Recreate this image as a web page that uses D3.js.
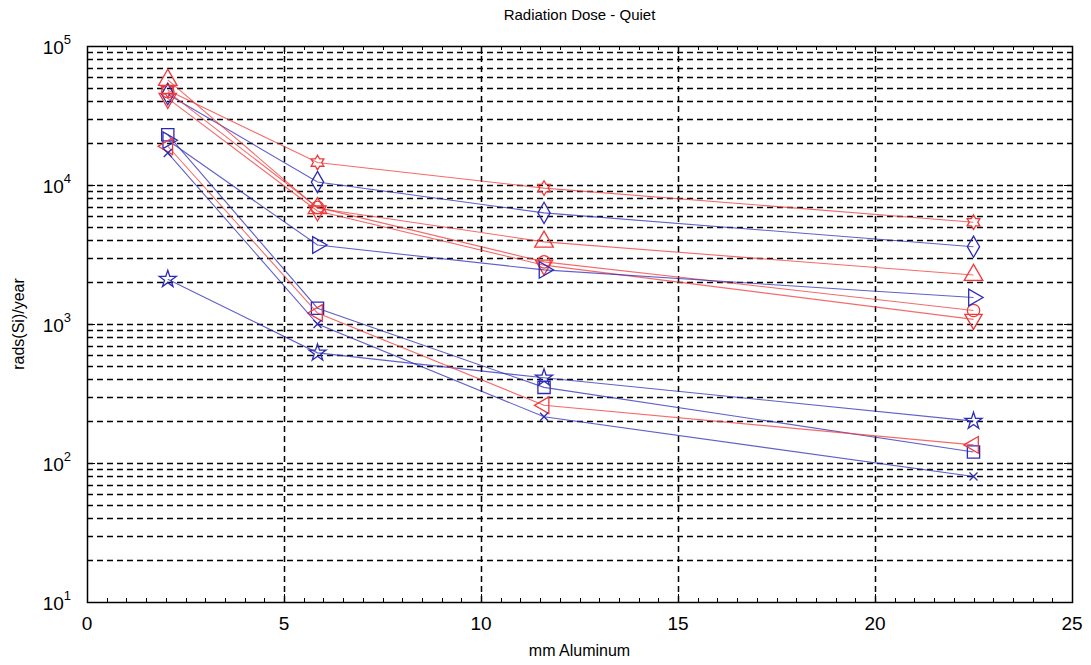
<!DOCTYPE html>
<html>
<head>
<meta charset="utf-8">
<script src="https://cdn.jsdelivr.net/npm/d3@7"></script>
<style>
  body { margin: 0; background: #fff; }
  text { font-family: Arial, "Liberation Sans", sans-serif; fill: #000; }
</style>
</head>
<body>
<div id="wrapper"></div>
<script>
// data
const thickness = [2.05, 5.85, 11.6, 22.5];   // mm Aluminum
const xTicks = [0, 5, 10, 15, 20, 25];
const yDecades = [1, 2, 3, 4, 5];

const redHexagram  = [48000, 14500, 9500, 5400];
const blueDiamond  = [45000, 10500, 6300, 3600];
const redTriangle  = [57000, 6800, 3900, 2250];
const redCircle    = [47000, 6900, 2800, 1250];
const redDown      = [42000, 6500, 2650, 1080];
const blueRight    = [21000, 3700, 2450, 1550];
const blueStar     = [2100, 620, 410, 200];
const blueSquare   = [23000, 1300, 350, 120];
const redLeft      = [19000, 1200, 260, 135];
const blueX        = [17000, 1000, 215, 80];

const series = [
    {values: redHexagram, color: 'red', marker: 'hexagram'},
    {values: blueDiamond, color: 'blue', marker: 'diamond'},
    {values: redTriangle, color: 'red', marker: 'up'},
    {values: redCircle, color: 'red', marker: 'circle'},
    {values: redDown, color: 'red', marker: 'down'},
    {values: blueRight, color: 'blue', marker: 'right'},
    {values: blueStar, color: 'blue', marker: 'star'},
    {values: blueSquare, color: 'blue', marker: 'square'},
    {values: redLeft, color: 'red', marker: 'left'},
    {values: blueX, color: 'blue', marker: 'x'}
];

//2. dimensions
const dimensions = {
    width: 1091,
    height: 665,
    margin: {top: 46, right: 19, bottom: 63, left: 87}
};
dimensions.boundedWidth = dimensions.width - dimensions.margin.left - dimensions.margin.right;
dimensions.boundedHeight = dimensions.height - dimensions.margin.top - dimensions.margin.bottom;

const colors = {red: '#f03a3a', blue: '#2b2bb8'};

//3. canvas
const wrapper = d3.select('#wrapper')
    .append('svg')
    .attr('width', dimensions.width)
    .attr('height', dimensions.height);
const bounds = wrapper.append('g')
    .attr('transform', `translate(${dimensions.margin.left},${dimensions.margin.top})`);

//4. scales
const xScale = d3.scaleLinear()
    .domain([0, 25])
    .range([0, dimensions.boundedWidth]);
const yScale = d3.scaleLog()
    .domain([10, 100000])
    .range([dimensions.boundedHeight, 0]);

// grid
const minorY = [];
yDecades.slice(0, -1).forEach(p => {
    for (let k = 1; k <= 9; k++) minorY.push(k * Math.pow(10, p));
});
const gridY = minorY.filter(v => v > 10 && v < 100000);

bounds.append('g').selectAll('line')
    .data(gridY)
    .join('line')
    .attr('x1', 0)
    .attr('x2', dimensions.boundedWidth)
    .attr('y1', d => Math.round(yScale(d)) + 0.5)
    .attr('y2', d => Math.round(yScale(d)) + 0.5)
    .attr('stroke', '#000')
    .attr('stroke-width', 1.5)
    .attr('stroke-dasharray', '6,4');

bounds.append('g').selectAll('line')
    .data(xTicks.slice(1, -1))
    .join('line')
    .attr('x1', d => Math.round(xScale(d)) + 0.5)
    .attr('x2', d => Math.round(xScale(d)) + 0.5)
    .attr('y1', 0)
    .attr('y2', dimensions.boundedHeight)
    .attr('stroke', '#000')
    .attr('stroke-width', 1.5)
    .attr('stroke-dasharray', '6,4');

// ticks inside the frame
const minorX = d3.range(0, 25.01, 0.5);
const tickG = bounds.append('g').attr('stroke', '#000').attr('stroke-width', 1);
minorX.forEach(v => {
    const len = v % 5 === 0 ? 8 : 4;
    const x = Math.round(xScale(v)) + 0.5;
    tickG.append('line').attr('x1', x).attr('x2', x)
        .attr('y1', dimensions.boundedHeight).attr('y2', dimensions.boundedHeight - len);
    tickG.append('line').attr('x1', x).attr('x2', x)
        .attr('y1', 0).attr('y2', len);
});
minorY.concat([100000]).forEach(v => {
    const len = Number.isInteger(Math.log10(v)) ? 8 : 4;
    const y = Math.round(yScale(v)) + 0.5;
    tickG.append('line').attr('x1', 0).attr('x2', len).attr('y1', y).attr('y2', y);
    tickG.append('line').attr('x1', dimensions.boundedWidth).attr('x2', dimensions.boundedWidth - len)
        .attr('y1', y).attr('y2', y);
});

// frame
bounds.append('rect')
    .attr('x', 0.5).attr('y', 0.5)
    .attr('width', dimensions.boundedWidth)
    .attr('height', dimensions.boundedHeight)
    .attr('fill', 'none')
    .attr('stroke', '#000')
    .attr('stroke-width', 1.5);

//5. markers
const hexagramType = {
    draw(context, size) {
        const r = Math.sqrt(size) * 0.62;
        const ri = r * 0.58;
        for (let i = 0; i < 12; i++) {
            const a = -Math.PI / 2 + i * Math.PI / 6;
            const rr = i % 2 === 0 ? r : ri;
            const px = rr * Math.cos(a), py = rr * Math.sin(a);
            if (i === 0) context.moveTo(px, py); else context.lineTo(px, py);
        }
        context.closePath();
    }
};
const xType = {
    draw(context, size) {
        const r = Math.sqrt(size) * 0.4;
        context.moveTo(-r, -r); context.lineTo(r, r);
        context.moveTo(-r, r); context.lineTo(r, -r);
    }
};
const symbolFor = {
    hexagram: {type: hexagramType, rotate: 0, size: 140},
    diamond: {type: d3.symbolDiamond, rotate: 0, size: 130},
    up: {type: d3.symbolTriangle, rotate: 0, size: 150},
    down: {type: d3.symbolTriangle, rotate: 180, size: 130},
    right: {type: d3.symbolTriangle, rotate: 90, size: 120},
    left: {type: d3.symbolTriangle, rotate: -90, size: 120},
    circle: {type: d3.symbolCircle, rotate: 0, size: 120},
    star: {type: d3.symbolStar, rotate: 0, size: 90},
    square: {type: d3.symbolSquare, rotate: 0, size: 150},
    x: {type: xType, rotate: 0, size: 100}
};

const line = d3.line()
    .x((d, i) => xScale(thickness[i]))
    .y(d => yScale(d));

const seriesG = bounds.selectAll('.series')
    .data(series)
    .join('g')
    .attr('class', 'series');

seriesG.append('path')
    .attr('d', d => line(d.values))
    .attr('fill', 'none')
    .attr('stroke', d => colors[d.color])
    .attr('stroke-opacity', 0.75)
    .attr('stroke-width', 1.1);

seriesG.each(function (s) {
    const m = symbolFor[s.marker];
    d3.select(this).selectAll('.mark')
        .data(s.values)
        .join('path')
        .attr('class', 'mark')
        .attr('d', d3.symbol().type(m.type).size(m.size))
        .attr('transform', (d, i) => `translate(${xScale(thickness[i])},${yScale(d)}) rotate(${m.rotate})`)
        .attr('fill', 'none')
        .attr('stroke', colors[s.color])
        .attr('stroke-width', 1.3);
});

//6. peripherals
const xLabels = bounds.append('g');
xLabels.selectAll('text')
    .data(xTicks)
    .join('text')
    .attr('x', d => xScale(d))
    .attr('y', dimensions.boundedHeight + 28)
    .attr('text-anchor', 'middle')
    .style('font-size', '19px')
    .text(d => d);

const yLabels = bounds.append('g');
yDecades.forEach(p => {
    const t = yLabels.append('text')
        .attr('x', -16)
        .attr('y', yScale(Math.pow(10, p)) + 8)
        .attr('text-anchor', 'end')
        .style('font-size', '19px');
    t.append('tspan').text('10');
    t.append('tspan').attr('dy', -10).style('font-size', '13px').text(p);
});

wrapper.append('text')
    .attr('x', dimensions.margin.left + dimensions.boundedWidth / 2)
    .attr('y', 20)
    .attr('text-anchor', 'middle')
    .style('font-size', '15px')
    .text('Radiation Dose - Quiet');

wrapper.append('text')
    .attr('x', dimensions.margin.left + dimensions.boundedWidth / 2)
    .attr('y', 656)
    .attr('text-anchor', 'middle')
    .style('font-size', '16px')
    .text('mm Aluminum');

wrapper.append('text')
    .attr('transform', `translate(24,${dimensions.margin.top + dimensions.boundedHeight / 2}) rotate(-90)`)
    .attr('text-anchor', 'middle')
    .style('font-size', '16px')
    .text('rads(Si)/year');
</script>
</body>
</html>
